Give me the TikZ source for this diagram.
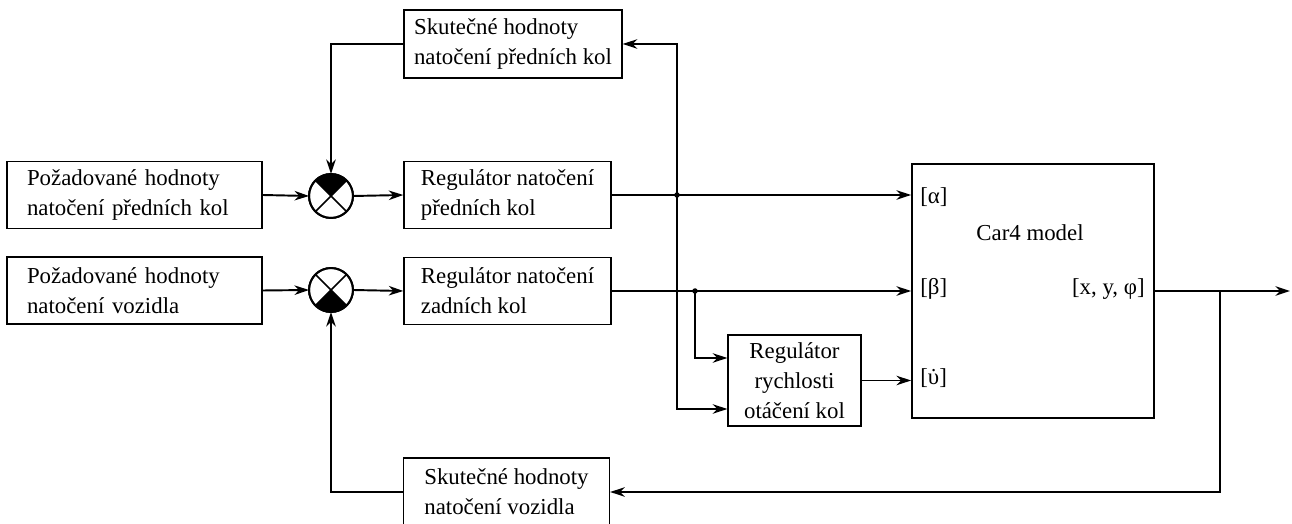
\documentclass[tikz,border=0pt]{standalone}
\usepackage{fontspec}
\setmainfont{Liberation Serif}
\usetikzlibrary{arrows.meta,calc}
\newcommand\myudot{\leavevmode\setbox0\hbox{υ}\rlap{\hbox to \wd0{\hss\char"02D9\hss}}\box0}
\tikzset{
  txt/.style={font=\fontsize{13}{17}\selectfont},
  blk/.style={draw, line width=0.8pt, txt, inner sep=0pt, align=left},
  sumj/.style={circle, draw, line width=1.1pt, minimum size=0.88cm, inner sep=0pt, outer sep=0pt},
  conn/.style={line width=1.1pt},
  arr/.style={conn, -{Stealth[length=0.29cm,width=0.19cm,inset=0.09cm]}},
  jdot/.style={fill=black}
}
\begin{document}
\begin{tikzpicture}[x=0.02cm,y=0.02cm]
\useasboundingbox (0,0) rectangle (1292,524);
% blocks
\node[blk, minimum width=5.1cm, minimum height=1.34cm, text width=4.3cm, inner xsep=0.4cm] (req1) at (134.5,329) {Požadované hodnoty\\natočení předních kol};
\node[blk, minimum width=5.1cm, minimum height=1.34cm, text width=4.3cm, inner xsep=0.4cm] (req2) at (134.5,233.5) {Požadované hodnoty\\natočení vozidla};
\node[sumj] (s1) at (331,328) {};
\node[sumj] (s2) at (331,234) {};
\node[blk, minimum width=4.36cm, minimum height=1.36cm] (top) at (513,480) {Skutečné hodnoty\\natočení předních kol};
\node[blk, minimum width=4.14cm, minimum height=1.34cm] (regA) at (507.5,329) {Regulátor natočení\\předních kol};
\node[blk, minimum width=4.14cm, minimum height=1.34cm] (regB) at (507.5,233) {Regulátor natočení\\zadních kol};
\node[blk, align=center, minimum width=2.66cm, minimum height=1.82cm] (regR) at (794.5,143.5) {Regulátor\\rychlosti\\otáčení kol};
\node[blk, line width=1.1pt, minimum width=4.84cm, minimum height=5.08cm] (car) at (1033,233) {};
\node[blk, minimum width=4.12cm, minimum height=1.36cm] (bot) at (506.5,32) {Skutečné hodnoty\\natočení vozidla};
% labels inside the model
\node[txt, anchor=center] (cname) at (1030,291) {Car4 model};
\node[txt, anchor=west, inner sep=0pt] (la) at (920,327) {[α]};
\node[txt, anchor=west, inner sep=0pt] (lb) at (920,235) {[β]};
\node[txt, anchor=west, inner sep=0pt] (lv) at (920,146) {[\myudot]};
\node[txt, anchor=east, inner sep=0pt] (lx) at (1145,235) {[x, y, φ]};
% summing junction details
\fill (s1.center) -- (s1.45) arc[start angle=45,end angle=135,radius=0.44cm] -- cycle;
\draw[line width=0.9pt] (s1.45) -- (s1.225) (s1.135) -- (s1.315);
\fill (s2.center) -- (s2.225) arc[start angle=225,end angle=315,radius=0.44cm] -- cycle;
\draw[line width=0.9pt] (s2.45) -- (s2.225) (s2.135) -- (s2.315);
\draw[sumj, fill=none] (s1.center) circle (0.44cm);
\draw[sumj, fill=none] (s2.center) circle (0.44cm);
% coordinates
\coordinate (d1) at (677,329);
\coordinate (d2) at (695,233);
\coordinate (r1) at ($(regR.west)+(0,-28.5)$);
\coordinate (r2) at ($(regR.west)+(0,22.5)$);
\coordinate (br) at (1220,233);
\coordinate (oend) at (1290,233);
% connectors
\draw[arr] (req1.east) -- (s1.west);
\draw[arr] (s1.east) -- (regA.west);
\draw[arr] (req2.east) -- (s2.west);
\draw[arr] (s2.east) -- (regB.west);
\draw[arr] (regA.east) -- (car.west |- regA.east);
\draw[arr] (regB.east) -- (car.west |- regB.east);
\draw[arr] (top.west) -| (s1.north);
\draw[arr] (bot.west) -| (s2.south);
\draw[arr] (regR.east) -- (car.west |- regR.east);
\draw[arr] (d1) |- (top.east);
\draw[arr] (d1) |- (r1);
\draw[arr] (d2) |- (r2);
\draw[arr] (car.east) -- (oend);
\draw[arr] (br) |- (bot.east);
\fill[jdot] (d1) circle (0.055cm);
\fill[jdot] (d2) circle (0.055cm);
\end{tikzpicture}
\end{document}
